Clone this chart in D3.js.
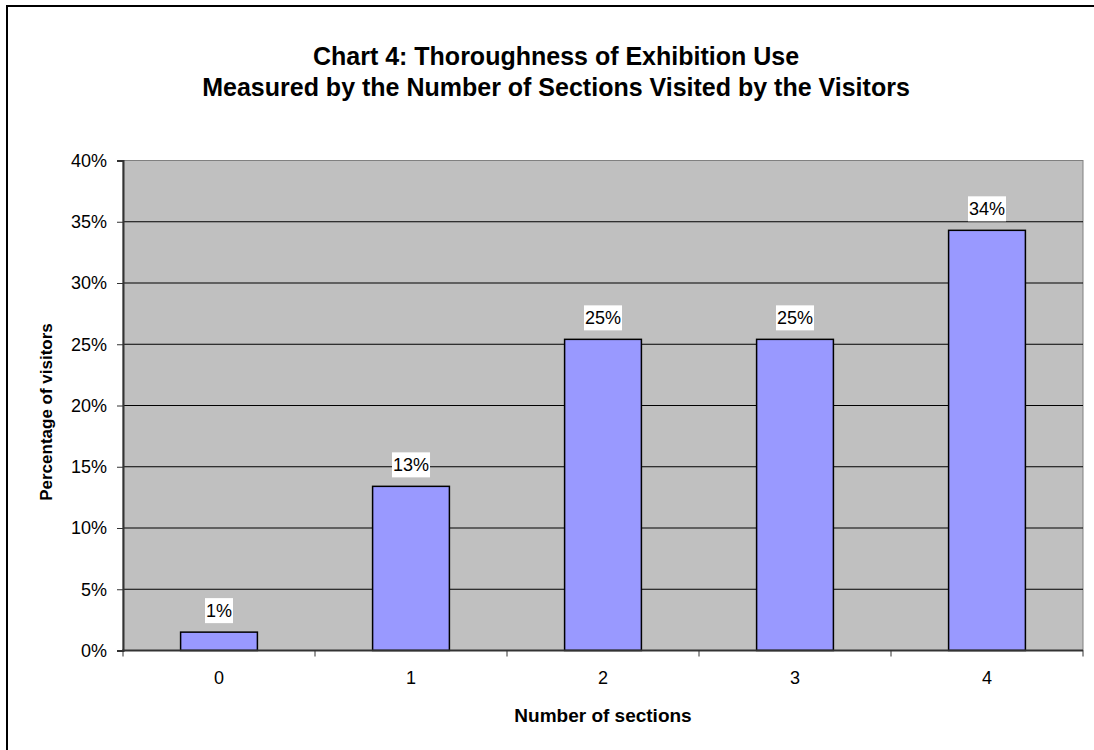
<!DOCTYPE html>
<html>
<head>
<meta charset="utf-8">
<script src="https://cdn.jsdelivr.net/npm/d3@7"></script>
<style>
  html, body { margin: 0; padding: 0; background: #fff; }
  svg { display: block; font-family: "Liberation Sans", Arial, sans-serif; }
</style>
</head>
<body>
<svg id="chart" width="1094" height="750"></svg>
<script>
// Number of sections visited and the share of visitors for each
const categories = ["0", "1", "2", "3", "4"];
const percentValues = [1.5, 13.4, 25.4, 25.4, 34.3];
const valueLabels = ["1%", "13%", "25%", "25%", "34%"];
const yTicks = [0, 5, 10, 15, 20, 25, 30, 35, 40];
const titleLines = ["Chart 4: Thoroughness of Exhibition Use",
                    "Measured by the Number of Sections Visited by the Visitors"];

const FONT = "Liberation Sans, Arial, sans-serif";
const svg = d3.select("#chart");
const plot = { left: 123, top: 160.5, right: 1083, bottom: 650.5 };

// outer chart frame
svg.append("rect")
  .attr("x", 7).attr("y", 6).attr("width", 1200).attr("height", 800)
  .attr("fill", "#fff").attr("stroke", "#000").attr("stroke-width", 2);

// titles
svg.selectAll("text.title").data(titleLines).enter().append("text")
  .attr("class", "title")
  .attr("x", 556).attr("y", (d, i) => 65 + i * 31)
  .attr("text-anchor", "middle")
  .attr("font-size", 25).attr("font-weight", "bold")
  .text(d => d);

const x = d3.scaleBand().domain(categories).range([plot.left, plot.right]).padding(0);
const y = d3.scaleLinear().domain([0, 40]).range([plot.bottom, plot.top]);

// plot area
svg.append("rect")
  .attr("x", plot.left).attr("y", plot.top)
  .attr("width", plot.right - plot.left).attr("height", plot.bottom - plot.top)
  .attr("fill", "#c0c0c0").attr("stroke", "#808080").attr("stroke-width", 1);

// gridlines
svg.append("g").selectAll("line").data(yTicks.filter(t => t > 0 && t < 40)).enter().append("line")
  .attr("x1", plot.left).attr("x2", plot.right)
  .attr("y1", d => y(d)).attr("y2", d => y(d))
  .attr("stroke", "#000").attr("stroke-width", 1);

// bars
const barW = x.bandwidth() * 0.4;
svg.append("g").selectAll("rect").data(percentValues).enter().append("rect")
  .attr("x", (d, i) => x(categories[i]) + (x.bandwidth() - barW) / 2)
  .attr("y", d => y(d))
  .attr("width", barW)
  .attr("height", d => plot.bottom - y(d))
  .attr("fill", "#9999ff").attr("stroke", "#000").attr("stroke-width", 1.5);

// value labels on white boxes
const lbl = svg.append("g").selectAll("g").data(percentValues).enter().append("g")
  .attr("transform", (d, i) => `translate(${x(categories[i]) + x.bandwidth() / 2},${y(d) - 21.5})`);
const lblRect = lbl.append("rect").attr("fill", "#fff");
const lblText = lbl.append("text")
  .attr("text-anchor", "middle").attr("dy", "0.36em")
  .attr("font-size", 18)
  .text((d, i) => valueLabels[i]);
lblText.each(function (d, i) {
  const w = this.getComputedTextLength() + 2;
  d3.select(lblRect.nodes()[i])
    .attr("x", -w / 2).attr("y", -12.5).attr("width", w).attr("height", 25);
});

// y axis
const yAxis = d3.axisLeft(y).tickValues(yTicks).tickFormat(d => d + "%").tickSize(6).tickPadding(10);
const gy = svg.append("g").attr("transform", `translate(${plot.left},0)`).call(yAxis);
gy.select(".domain").attr("stroke", "#333").attr("stroke-width", 2);
gy.selectAll(".tick line").attr("stroke", "#333");
gy.selectAll(".tick text").attr("font-size", 18).attr("fill", "#000")
  .attr("font-family", FONT);

// x axis: ticks sit between categories
const gx = svg.append("g").attr("transform", `translate(0,${plot.bottom})`);
gx.append("line").attr("x1", plot.left - 1).attr("x2", plot.right)
  .attr("stroke", "#333").attr("stroke-width", 2);
gx.selectAll("line.tk").data(d3.range(categories.length + 1)).enter().append("line")
  .attr("class", "tk")
  .attr("x1", i => plot.left + i * x.step()).attr("x2", i => plot.left + i * x.step())
  .attr("y1", 0).attr("y2", 6).attr("stroke", "#333");
gx.selectAll("text").data(categories).enter().append("text")
  .attr("x", d => x(d) + x.bandwidth() / 2).attr("y", 33.5)
  .attr("text-anchor", "middle").attr("font-size", 18)
  .text(d => d);

// axis titles
svg.append("text")
  .attr("x", 603).attr("y", 722)
  .attr("text-anchor", "middle").attr("font-size", 19).attr("font-weight", "bold")
  .text("Number of sections");
svg.append("text")
  .attr("transform", "translate(52,412) rotate(-90)")
  .attr("text-anchor", "middle").attr("font-size", 17).attr("font-weight", "bold")
  .text("Percentage of visitors");
</script>
</body>
</html>
